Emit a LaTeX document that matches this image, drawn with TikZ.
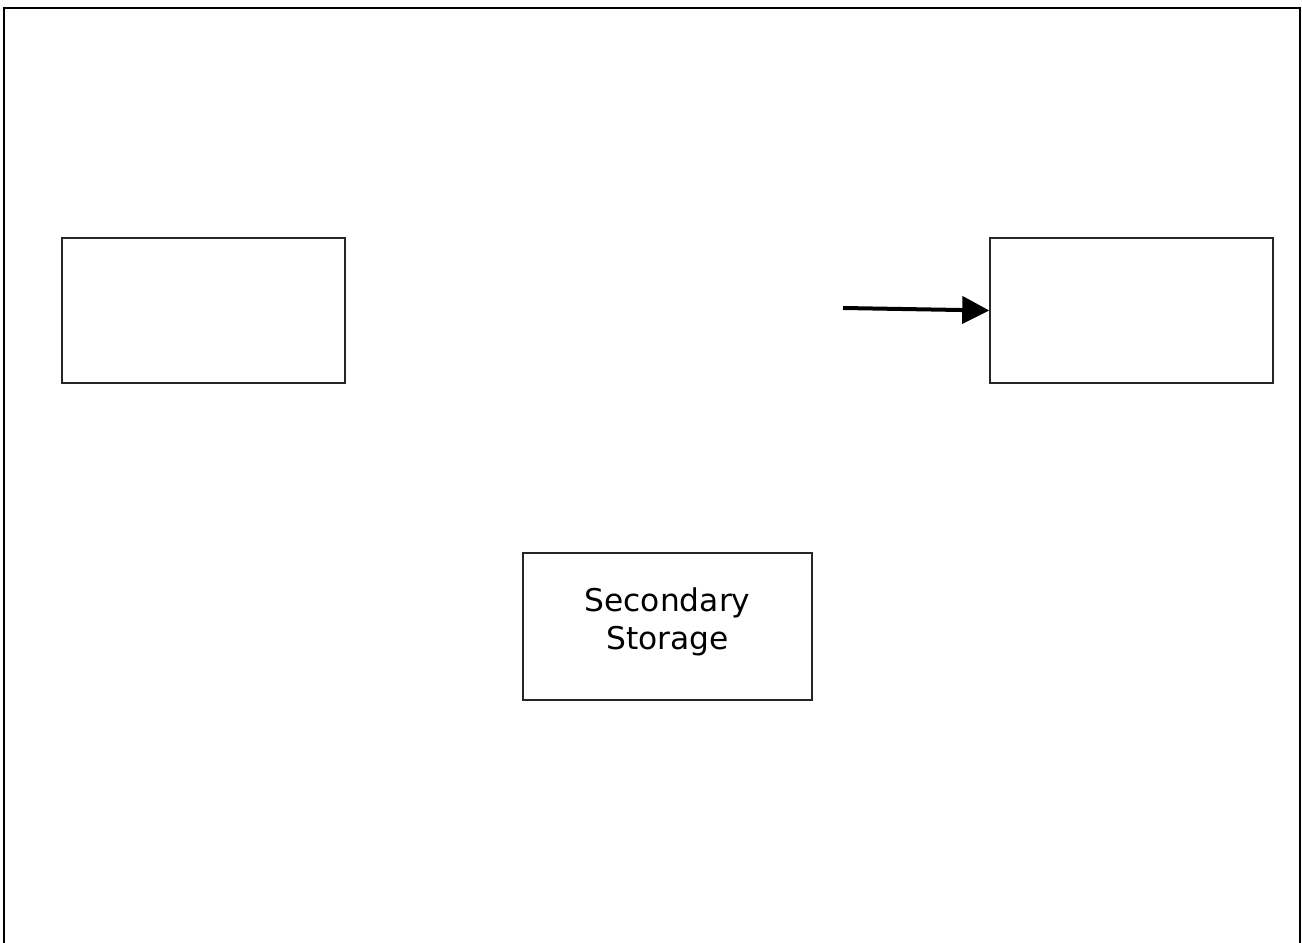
\documentclass[tikz,border=0pt]{standalone}
\usepackage{fontspec}
\setmainfont{DejaVu Sans}
\usetikzlibrary{arrows.meta}
\begin{document}
\begin{tikzpicture}[x=0.01cm,y=-0.01cm,
  box/.style={draw=black!85, line width=0.013cm, fill=white, inner sep=0pt},
  frameline/.style={draw=black, line width=0.028cm},
  arr/.style={line width=0.04cm, -{Triangle[length=0.27cm,width=0.27cm]}}]
\useasboundingbox (0,0) rectangle (1302,943);
\fill[white] (0,0) rectangle (1302,943);
% outer frame (bottom edge lies beyond the picture)
\draw[frameline] (4,950) -- (4,8) -- (1300,8) -- (1300,950);
% boxes
\node[box, minimum width=2.83cm, minimum height=1.45cm] (left) at (203.5,310.5) {};
\node[box, minimum width=2.83cm, minimum height=1.45cm] (right) at (1131.5,310.5) {};
\node[box, line width=0.016cm, minimum width=2.89cm, minimum height=1.47cm, align=center,
      font=\fontsize{8.9pt}{11pt}\selectfont] (sec) at (667.5,626.5) {Secondary\\Storage\rule[-0.5em]{0pt}{0pt}};
% arrow
\coordinate (a0) at (843,308);
\draw[arr] (a0) -- (right.west);
\end{tikzpicture}
\end{document}
